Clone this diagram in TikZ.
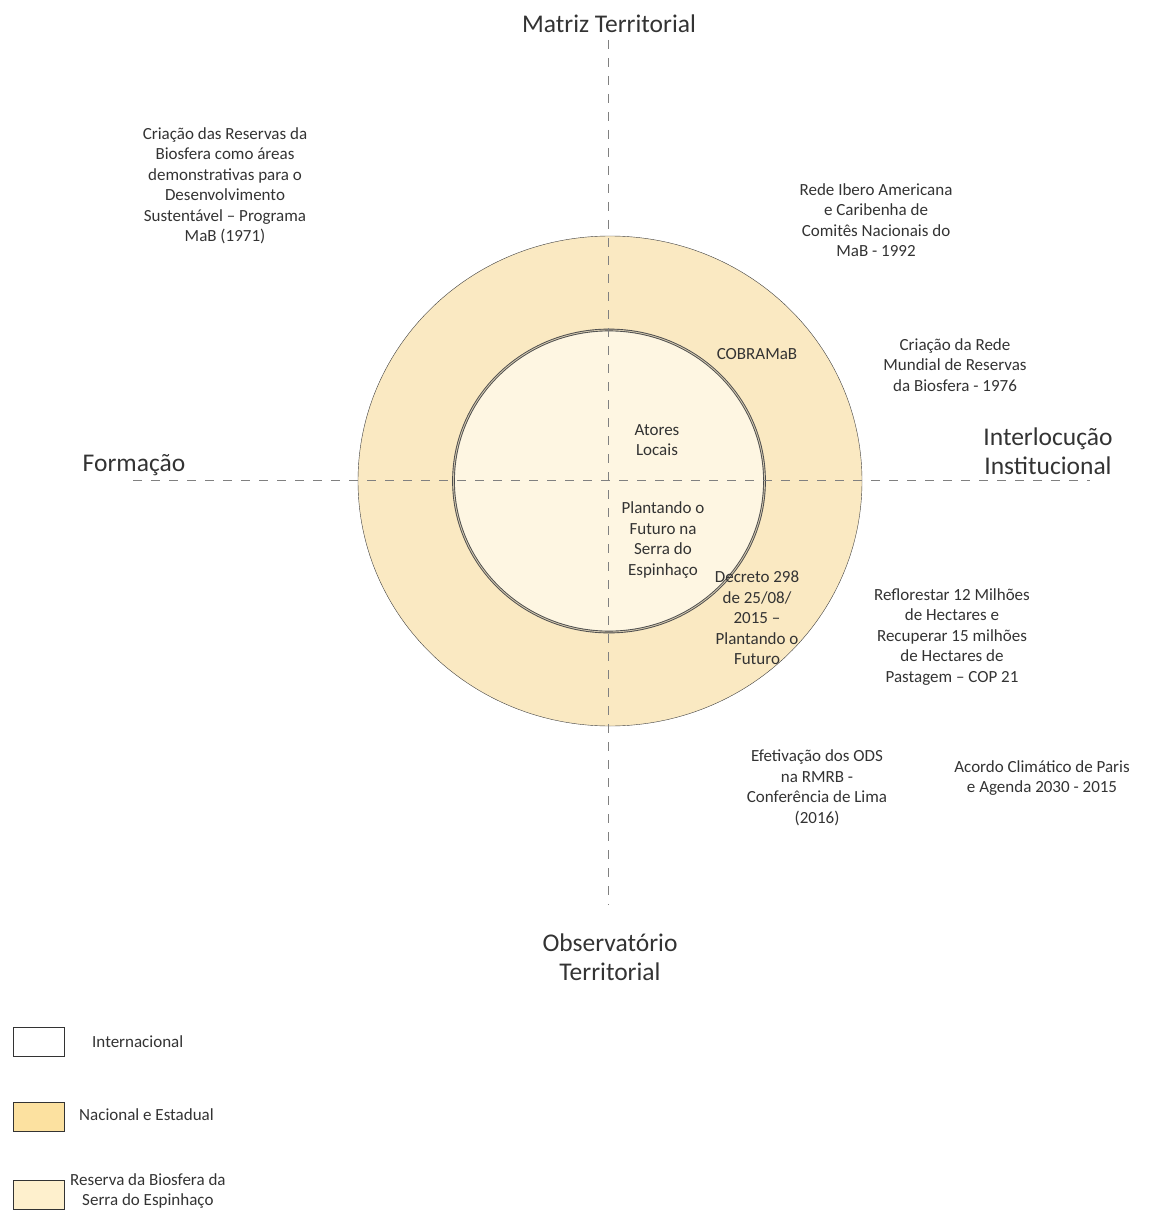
\documentclass[tikz,border=0pt]{standalone}
\usepackage{fontspec}
\usetikzlibrary{shapes.geometric}
\setmainfont{Carlito}
\definecolor{ringfill}{RGB}{250,233,194}
\definecolor{corefill}{RGB}{254,246,226}
\definecolor{natfill}{RGB}{252,225,160}
\definecolor{rsefill}{RGB}{254,240,205}
\definecolor{inkgray}{RGB}{51,51,51}
\tikzset{
  small/.style={align=center, text=inkgray, inner sep=0pt, font=\fontsize{17}{20.5}\selectfont},
  axislabel/.style={align=center, text=inkgray, inner sep=0pt, font=\fontsize{25.5}{29.5}\selectfont},
  axisline/.style={gray, thin, dash pattern=on 9pt off 9pt},
  keybox/.style={draw=black!80, minimum width=51pt, minimum height=29pt, inner sep=0pt}
}
\begin{document}
\begin{tikzpicture}[x=1pt, y=-1pt]
  \useasboundingbox (0,0) rectangle (1150,1214);
  % Rings
  \node[ellipse, draw=black!75, fill=ringfill, minimum width=504pt, minimum height=490pt, inner sep=0pt] (outer) at (610,481) {};
  \node[ellipse, draw=black!70, line width=0.9pt, double=corefill!70!black!60!ringfill, double distance=0.9pt, fill=corefill, minimum width=311pt, minimum height=302pt, inner sep=0pt] (inner) at (609,481) {};

  % Axes
  \coordinate (ntop) at (608,40);
  \coordinate (nbot) at (608,905);
  \coordinate (wleft) at (133,480);
  \coordinate (eright) at (1090,480);
  \draw[axisline] (ntop) -- (nbot);
  \draw[axisline] (wleft) -- (eright);

  % Axis labels
  \node[axislabel] (matriz) at (609,24) {Matriz Territorial};
  \node[axislabel] (formacao) at (134,465) {Formação};
  \node[axislabel] (interloc) at (1048,451) {Interlocução\\Institucional};
  \node[axislabel] (observ) at (610,957) {Observatório\\Territorial};

  % Milestones
  \node[small] (mab) at (225,186) {Criação das Reservas da\\Biosfera como áreas\\demonstrativas para o\\Desenvolvimento\\Sustentável – Programa\\MaB (1971)};
  \node[small] (ibero) at (876,220) {Rede Ibero Americana\\e Caribenha de\\Comitês Nacionais do\\MaB - 1992};
  \node[small] (cobramab) at (757,354) {COBRAMaB};
  \node[small] (mundial) at (955,365) {Criação da Rede\\Mundial de Reservas\\da Biosfera - 1976};
  \node[small] (atores) at (657,440) {Atores\\Locais};
  \node[small] (plantando) at (663,540) {Plantando o\\Futuro na\\Serra do\\Espinhaço};
  \node[small] (decreto) at (757,618) {Decreto 298\\de 25/08/\\2015 –\\Plantando o\\Futuro};
  \node[small] (reflorestar) at (952,637) {Reflorestar 12 Milhões\\de Hectares e\\Recuperar 15 milhões\\de Hectares de\\Pastagem – COP 21};
  \node[small] (ods) at (817,788) {Efetivação dos ODS\\na RMRB -\\Conferência de Lima\\(2016)};
  \node[small] (paris) at (1042,778) {Acordo Climático de Paris\\e Agenda 2030 - 2015};

  % Legend
  \node[keybox, fill=white] (keyint) at (39,1042) {};
  \node[keybox, fill=natfill] (keynat) at (39,1117) {};
  \node[keybox, fill=rsefill] (keyrse) at (39,1195) {};
  \node[small, anchor=west] (txtint) at (92,1042) {Internacional};
  \node[small, anchor=west] (txtnat) at (79,1115) {Nacional e Estadual};
  \node[small, anchor=west] (txtrse) at (70,1191) {Reserva da Biosfera da\\Serra do Espinhaço};
\end{tikzpicture}
\end{document}
